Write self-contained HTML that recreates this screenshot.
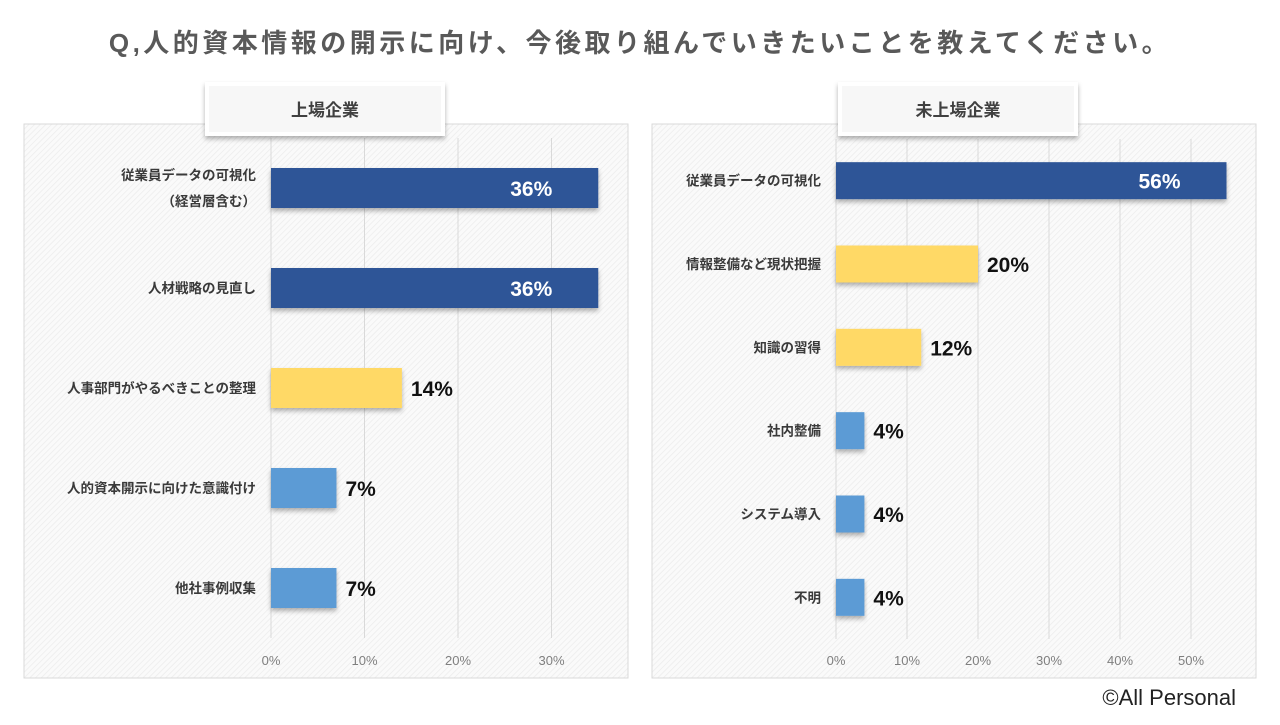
<!DOCTYPE html>
<html><head><meta charset="utf-8"><style>
body{margin:0;width:1280px;height:720px;background:#fff;overflow:hidden;font-family:"Liberation Sans","Noto Sans CJK JP",sans-serif}
</style></head><body>
<svg id="s" width="1280" height="720" xmlns="http://www.w3.org/2000/svg">
<defs>
<pattern id="hatch" width="4" height="4" patternUnits="userSpaceOnUse" patternTransform="rotate(45)">
<rect width="4" height="4" fill="#fafafa"/><line x1="0" y1="0" x2="0" y2="4" stroke="#ececec" stroke-width="1.5"/>
</pattern>
<filter id="sh" x="-10%" y="-30%" width="120%" height="180%"><feDropShadow dx="0" dy="3" stdDeviation="2.5" flood-color="#000" flood-opacity="0.3"/></filter>
</defs>
<text x="640" y="52" text-anchor="middle" font-size="26" letter-spacing="3.5" font-weight="bold" fill="#595959">Q,人的資本情報の開示に向け、今後取り組んでいきたいことを教えてください。</text>
<text x="1236" y="705" text-anchor="end" font-size="22" fill="#222">©All Personal</text>
<g id="left"></g><g id="right"></g>
</svg>
<script>
const leftCats=[["従業員データの可視化","（経営層含む）"],["人材戦略の見直し"],["人事部門がやるべきことの整理"],["人的資本開示に向けた意識付け"],["他社事例収集"]];
const leftVals=[35,35,14,7,7];
const leftLabels=["36%","36%","14%","7%","7%"];
const leftColors=["#2f5597","#2f5597","#ffd966","#5b9bd5","#5b9bd5"];
const leftTicks=[0,10,20,30];
const rightCats=[["従業員データの可視化"],["情報整備など現状把握"],["知識の習得"],["社内整備"],["システム導入"],["不明"]];
const rightVals=[55,20,12,4,4,4];
const rightLabels=["56%","20%","12%","4%","4%","4%"];
const rightColors=["#2f5597","#ffd966","#ffd966","#5b9bd5","#5b9bd5","#5b9bd5"];
const rightTicks=[0,10,20,30,40,50];
const NS="http://www.w3.org/2000/svg";
function mk(p,t,a){const e=document.createElementNS(NS,t);for(const k in a)e.setAttribute(k,a[k]);p.appendChild(e);return e;}
function chart(g,o){
 const bg=mk(g,'rect',{x:o.px,y:124,width:o.pw,height:554,fill:'url(#hatch)',stroke:'#d9d9d9'});
 
 
 const x=v=>o.x0+v*o.k;
 o.ticks.forEach(t=>{
  const l=mk(g,'line',{x1:x(t),x2:x(t),y1:o.top,y2:o.bot,stroke:'#d9d9d9'});
  
  
  const tx=mk(g,'text',{x:x(t),y:665,'text-anchor':'middle','font-size':13,fill:'#7f7f7f'});tx.textContent=t+'%';
  
  
 });
 const n=o.cats.length,step=(o.bot-o.top)/n;
 o.cats.forEach((c,i)=>{
  const cy=o.top+step*(i+0.5);
  const sh=mk(g,'rect',{x:x(0),y:cy-o.bh/2,width:x(o.vals[i])-x(0),height:o.bh,fill:o.colors[i],filter:'url(#sh)'});
  
  
  const lab=mk(g,'text',{'font-size':13.5,'font-weight':'bold',fill:'#3a3a3a','text-anchor':'end'});
  
  
  c.forEach((s,j)=>{const ts=mk(lab,'tspan',{x:o.x0-15,y:cy+5+(j-(c.length-1)/2)*26});ts.textContent=s;});
  const inside=o.vals[i]>30;
  const v=mk(g,'text',{x:inside?x(o.vals[i])-46:x(o.vals[i])+9,y:cy+8,'font-size':21,'font-weight':'bold',fill:inside?'#fff':'#111','text-anchor':inside?'end':'start'});
  v.textContent=o.labels[i];
  
  
 });
 const hb=mk(g,'rect',{x:o.hx,y:84,width:236,height:50,fill:'#f7f7f7',stroke:'#fff','stroke-width':4,filter:'url(#sh)'});
 
 
 const ht=mk(g,'text',{x:o.hx+118,y:116,'text-anchor':'middle','font-size':17,'font-weight':'bold',fill:'#404040'});ht.textContent=o.title;
 
 
}
chart(document.getElementById('left'),{name:'listed',px:24,pw:604,x0:271,k:9.35,top:138,bot:638,bh:40,cats:leftCats,vals:leftVals,labels:leftLabels,colors:leftColors,ticks:leftTicks,hx:207,title:'上場企業'});
chart(document.getElementById('right'),{name:'unlisted',px:652,pw:604,x0:836,k:7.1,top:139,bot:639,bh:37,cats:rightCats,vals:rightVals,labels:rightLabels,colors:rightColors,ticks:rightTicks,hx:840,title:'未上場企業'});
</script>
</body></html>
